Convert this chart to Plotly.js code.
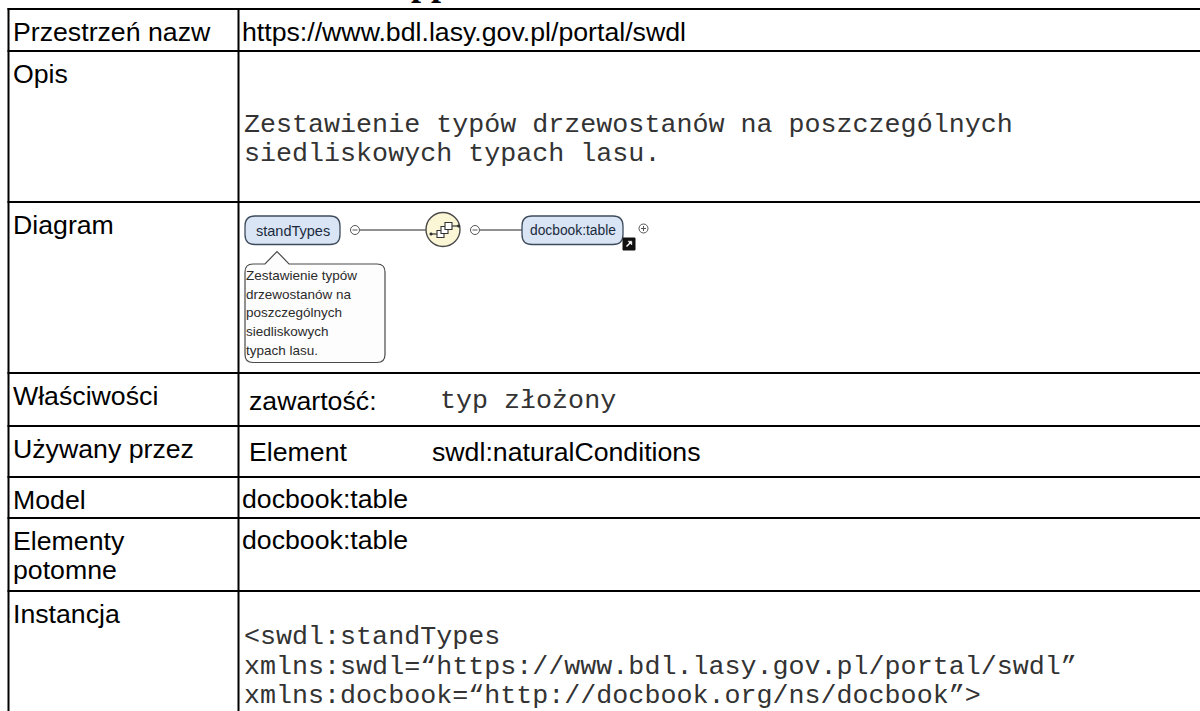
<!DOCTYPE html>
<html>
<head>
<meta charset="utf-8">
<script src="https://cdn.plot.ly/plotly-3.0.1.min.js"></script>
<style>
html,body{margin:0;padding:0;background:#fff;}
#chart{width:1200px;height:711px;}
</style>
</head>
<body>
<div id="chart"></div>
<script>
// ---------- content ----------
const headingFragment = 'pp';
const labelLines = [
  ['Przestrzeń nazw'],
  ['Opis'],
  ['Diagram'],
  ['Właściwości'],
  ['Używany przez'],
  ['Model'],
  ['Elementy', 'potomne'],
  ['Instancja']
];
const namespaceUri = 'https://www.bdl.lasy.gov.pl/portal/swdl';
const descriptionLines = [
  'Zestawienie typów drzewostanów na poszczególnych',
  'siedliskowych typach lasu.'
];
const propertyKey = 'zawartość:';
const propertyValue = 'typ złożony';
const usedByKind = 'Element';
const usedByName = 'swdl:naturalConditions';
const modelValue = 'docbook:table';
const childrenValue = 'docbook:table';
const instanceLines = [
  '&lt;swdl:standTypes',
  'xmlns:swdl=“https://www.bdl.lasy.gov.pl/portal/swdl”',
  'xmlns:docbook=“http://docbook.org/ns/docbook”&gt;'
];
const diagramRoot = 'standTypes';
const diagramChild = 'docbook:table';
const calloutLines = [
  'Zestawienie typów',
  'drzewostanów na',
  'poszczególnych',
  'siedliskowych',
  'typach lasu.'
];

// ---------- layout geometry (pixels) ----------
const G = {
  left: 8.5, divider: 238.5, right: 1215, bottom: 720,
  rowTops: [9, 51, 202, 373, 426, 477, 518, 591],
  labelX: 13, labelDy: 22.5, lineGap: 29.5,
  valX: 241.5, codeX: 243.5
};
const SANS = 'Arial, "Liberation Sans", sans-serif';
const MONO = '"Courier New", "Liberation Mono", monospace';
const FS = 26.7;
const CODE_COLOR = '#333333';

const shapes = [];
const ann = [];

function text(t, x, y, font, opts) {
  ann.push(Object.assign({
    text: t, x: x, y: y, xref: 'x', yref: 'y',
    xanchor: 'left', yanchor: 'middle', showarrow: false,
    borderpad: 0, borderwidth: 0, font: font
  }, opts || {}));
}
function line(x0, y0, x1, y1, color, w) {
  shapes.push({type: 'line', xref: 'x', yref: 'y', x0, y0, x1, y1,
    line: {color: color, width: w}});
}
function rr(x0, y0, x1, y1, r) {
  return `M${x0 + r},${y0} L${x1 - r},${y0} Q${x1},${y0} ${x1},${y0 + r} L${x1},${y1 - r} Q${x1},${y1} ${x1 - r},${y1} L${x0 + r},${y1} Q${x0},${y1} ${x0},${y1 - r} L${x0},${y0 + r} Q${x0},${y0} ${x0 + r},${y0} Z`;
}
function path(p, fill, color, w) {
  shapes.push({type: 'path', xref: 'x', yref: 'y', path: p, fillcolor: fill,
    line: {color: color, width: w}});
}
function circle(cx, cy, r, fill, color, w) {
  shapes.push({type: 'circle', xref: 'x', yref: 'y', x0: cx - r, x1: cx + r,
    y0: cy - r, y1: cy + r, fillcolor: fill, line: {color: color, width: w}});
}
function rect(x0, y0, x1, y1, fill, color, w) {
  shapes.push({type: 'rect', xref: 'x', yref: 'y', x0, y0, x1, y1,
    fillcolor: fill, line: {color: color, width: w}});
}

// ---------- table grid ----------
G.rowTops.forEach(y => line(G.left - 1, y, G.right, y, '#000', 2));
line(G.left, G.rowTops[0] - 1, G.left, G.bottom, '#000', 2);
line(G.divider, G.rowTops[0] - 1, G.divider, G.bottom, '#000', 2);

// ---------- heading fragment (cut off at the top of the page) ----------
text(headingFragment, 411, 2.5,
  {family: '"Liberation Serif", "Times New Roman", serif', size: 36, color: '#000', weight: 'bold'},
  {yanchor: 'bottom'});

// ---------- row labels ----------
const labelFont = {family: SANS, size: FS, color: '#000'};
labelLines.forEach((lines, i) => {
  lines.forEach((t, j) => text(t, G.labelX, G.rowTops[i] + G.labelDy + j * G.lineGap, labelFont));
});

// ---------- values ----------
const codeFont = {family: MONO, size: FS, color: CODE_COLOR};
text(namespaceUri, G.valX, 31.7, labelFont);
descriptionLines.forEach((t, j) => text(t, G.codeX, 124.7 + j * G.lineGap, codeFont));
text(propertyKey, 249, 400.5, labelFont);
text(propertyValue, 440, 400.5, codeFont);
text(usedByKind, 249, 452, labelFont);
text(usedByName, 431.5, 452, labelFont);
text(modelValue, G.valX, 499, labelFont);
text(childrenValue, G.valX, 540, labelFont);
instanceLines.forEach((t, j) => text(t, G.codeX, 637 + j * G.lineGap, codeFont));

// ---------- diagram ----------
const EDGE = '#3d4b5c';
const LINK = '#6b6b6b';
// root element
path(rr(245, 216, 340, 244.5, 10), '#d9e5f4', EDGE, 1.3);
text(diagramRoot, 292.5, 230.5, {family: SANS, size: 14.5, color: '#1b2a3d'}, {xanchor: 'center'});
// minus toggle 1
circle(355, 230, 4.5, '#fff', '#555', 1);
line(352.5, 230, 357.5, 230, '#555', 1);
line(359.5, 230, 426, 230, LINK, 1.5);
// compositor (sequence)
circle(443, 229.5, 17, '#fbf7d6', '#4a4a4a', 1.4);
line(431, 234, 438, 234, '#333', 1.2);
circle(431, 234, 1.3, '#333', '#333', 0.5);
rect(437, 230.5, 444, 237.5, '#fff', '#333', 1.1);
rect(441, 226.5, 448, 233.5, '#fff', '#333', 1.1);
rect(445, 222.5, 452, 229.5, '#fff', '#333', 1.1);
line(452, 226, 458, 226, '#333', 1.2);
circle(458.5, 226, 1.3, '#333', '#333', 0.5);
// minus toggle 2
circle(475, 230, 4.5, '#fff', '#555', 1);
line(472.5, 230, 477.5, 230, '#555', 1);
line(479.5, 230, 522, 230, LINK, 1.5);
// child element
path(rr(522, 216, 623, 244.5, 10), '#d9e5f4', EDGE, 1.3);
text(diagramChild, 572.5, 230.5, {family: SANS, size: 13.8, color: '#1b2a3d'}, {xanchor: 'center'});
// reference (link) icon
rect(623, 238, 635, 250, '#111', '#111', 1);
line(626.5, 246.5, 631, 242, '#fff', 1.4);
path('M628,241.2 L631.8,241.2 L631.8,245 Z', '#fff', '#fff', 0.5);
// plus toggle
circle(643.5, 228.5, 4.5, '#fff', '#555', 1);
line(641, 228.5, 646, 228.5, '#555', 1);
line(643.5, 226, 643.5, 231, '#555', 1);
// callout
const cT = 264, cB = 362.5, cL = 245, cR = 385, cr = 8;
path(`M${cL + cr},${cT} L265,${cT} L277,251.5 L289,${cT} L${cR - cr},${cT} Q${cR},${cT} ${cR},${cT + cr} L${cR},${cB - cr} Q${cR},${cB} ${cR - cr},${cB} L${cL + cr},${cB} Q${cL},${cB} ${cL},${cB - cr} L${cL},${cT + cr} Q${cL},${cT} ${cL + cr},${cT} Z`,
  '#fdfdfd', '#4a4a4a', 1.2);
calloutLines.forEach((t, j) => text(t, 246, 275.5 + j * 18.7, {family: SANS, size: 13.5, color: '#2b2b2b'}));

// ---------- plot ----------
const layout = {
  width: 1200, height: 711,
  margin: {l: 0, r: 0, t: 0, b: 0, pad: 0},
  paper_bgcolor: '#fff', plot_bgcolor: '#fff',
  showlegend: false,
  xaxis: {range: [0, 1200], visible: false, fixedrange: true},
  yaxis: {range: [711, 0], visible: false, fixedrange: true},
  shapes: shapes,
  annotations: ann
};
const trace = {x: [0], y: [0], type: 'scatter', mode: 'markers',
  marker: {opacity: 0}, hoverinfo: 'skip'};
Plotly.newPlot('chart', [trace], layout, {displayModeBar: false, staticPlot: true});
</script>
</body>
</html>
